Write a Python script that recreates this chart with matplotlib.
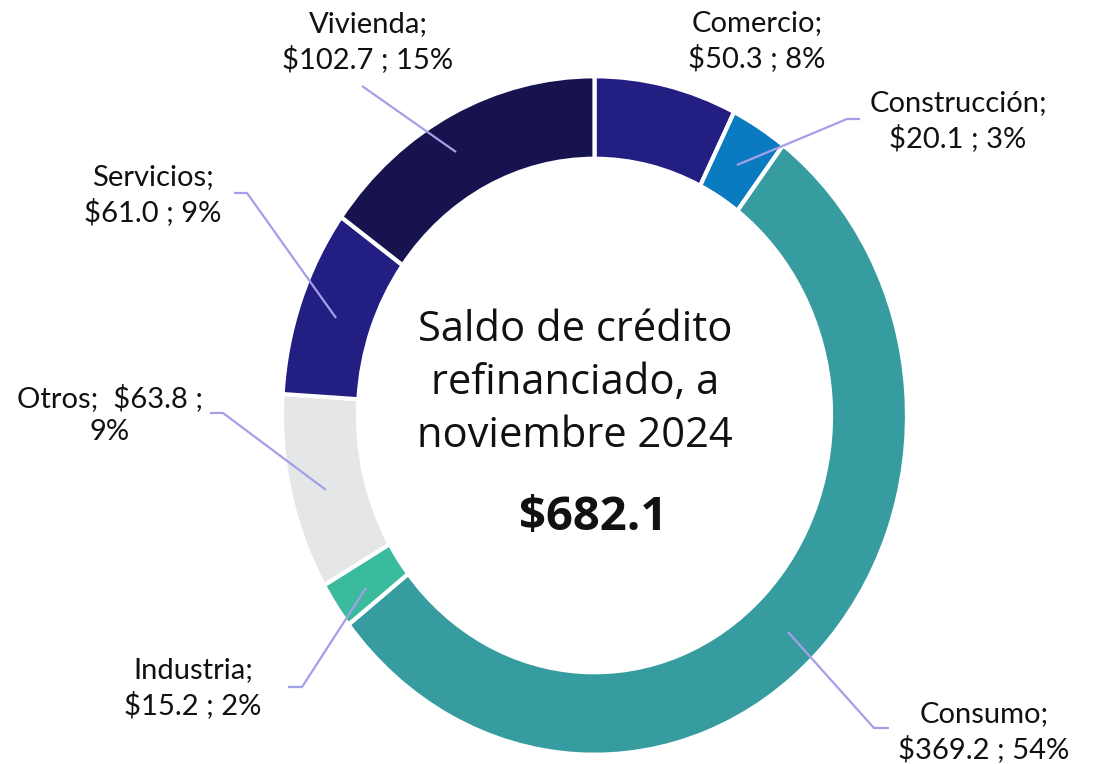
import matplotlib.pyplot as plt

# Data (miles de millones)
sectores = ["Comercio", "Construcción", "Consumo", "Industria", "Otros", "Servicios", "Vivienda"]
saldos = [50.3, 20.1, 369.2, 15.2, 63.8, 61.0, 102.7]
porcentajes = ["8%", "3%", "54%", "2%", "9%", "9%", "15%"]
total = "$682.1"
colores = ["#231f82", "#0a7bc0", "#379c9f", "#3bbb9d", "#e5e6e8", "#231f82", "#16134f"]

# label layout: (text x, text y, line points) in data coords of the full-figure axes
W, H = 1097, 764
CX, CY = 594.5, 415.5
RX, RY = 310.0, 336.5


def px(x, y):
    # pixel (from top-left) -> data coords
    return (x - CX) / RX, (CY - y) / RY


etiquetas = {
    "Vivienda": ("Vivienda;\n$102.7 ; 15%", (368, 42), [(362, 86), (456, 152)]),
    "Comercio": ("Comercio;\n$50.3 ; 8%", (757, 41), None),
    "Construcción": ("Construcción;\n$20.1 ; 3%", (958, 121), [(860, 119), (847, 119), (737, 165)]),
    "Consumo": ("Consumo;\n$369.2 ; 54%", (984, 732), [(788, 632), (874, 728), (889, 728)]),
    "Industria": ("Industria;\n$15.2 ; 2%", (193, 688), [(366, 588), (302, 687), (288, 687)]),
    "Otros": ("Otros;  $63.8 ;\n9%", (110, 415), [(210, 413), (223, 413), (326, 490)]),
    "Servicios": ("Servicios;\n$61.0 ; 9%", (153, 195), [(234, 193), (247, 193), (336, 318)]),
}

fig = plt.figure(figsize=(W / 100, H / 100), dpi=100)
ax = fig.add_axes([0, 0, 1, 1])

ax.pie(saldos, colors=colores, startangle=90, counterclock=False, radius=1.008,
       wedgeprops=dict(width=0.245, edgecolor="white", linewidth=3))
ax.set_aspect("auto")
ax.set_xlim(-CX / RX, (W - CX) / RX)
ax.set_ylim(-(H - CY) / RY, CY / RY)
ax.axis("off")

for s in sectores:
    texto, pos, linea = etiquetas[s]
    tx, ty = px(*pos)
    ax.text(tx, ty, texto, ha="center", va="center", fontsize=21, family="Lato",
            color="#111111", linespacing=1.33)
    if linea:
        xs, ys = zip(*[px(x, y) for x, y in linea])
        ax.plot(xs, ys, color="#a3a0e8", lw=1.6, solid_capstyle="butt")

cx, cy = px(575, 383)
ax.text(cx, cy, "Saldo de crédito\nrefinanciado, a\nnoviembre 2024", ha="center", va="center",
        fontsize=30, family="Open Sans", color="#111111", linespacing=1.35)
bx, by = px(593, 518)
ax.text(bx, by, total, ha="center", va="center", fontsize=34, family="Open Sans",
        weight="bold", color="#111111")

fig.savefig("out.png", dpi=100)
